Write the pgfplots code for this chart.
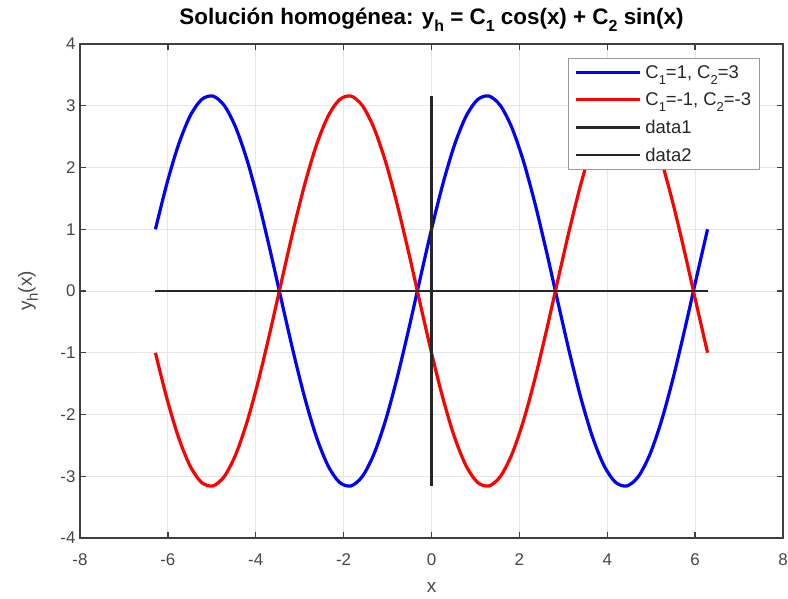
\documentclass[border=0pt]{standalone}
\usepackage{fontspec}
\setmainfont{Liberation Sans}
\usepackage{pgfplots}
\usepackage{pgfplotstable}
\pgfplotsset{compat=1.18}
\definecolor{axgray}{RGB}{38,38,38}
\definecolor{linegray}{RGB}{64,64,64}
\definecolor{gridgray}{RGB}{230,230,230}
\definecolor{mblue}{RGB}{0,0,255}
\definecolor{mred}{RGB}{255,0,0}
\newcommand{\sub}[3][13]{\raisebox{-#3bp}{\fontsize{#1}{#1}\selectfont #2}}

% x, C1=1 C2=3, C1=-1 C2=-3
\pgfplotstableread{
x a b
-6.2832 1 -1
-6.0214 1.7424 -1.7424
-5.7596 2.3660 -2.3660
-5.4978 2.8284 -2.8284
-5.2360 3.0981 -3.0981
-4.9742 3.1566 -3.1566
-4.7124 3 -3
-4.4506 2.6390 -2.6390
-4.1888 2.0981 -2.0981
-3.9270 1.4142 -1.4142
-3.6652 0.6340 -0.6340
-3.4034 -0.1894 0.1894
-3.1416 -1 1
-2.8798 -1.7424 1.7424
-2.6180 -2.3660 2.3660
-2.3562 -2.8284 2.8284
-2.0944 -3.0981 3.0981
-1.8326 -3.1566 3.1566
-1.5708 -3 3
-1.3090 -2.6390 2.6390
-1.0472 -2.0981 2.0981
-0.7854 -1.4142 1.4142
-0.5236 -0.6340 0.6340
-0.2618 0.1894 -0.1894
0 1 -1
0.2618 1.7424 -1.7424
0.5236 2.3660 -2.3660
0.7854 2.8284 -2.8284
1.0472 3.0981 -3.0981
1.3090 3.1566 -3.1566
1.5708 3 -3
1.8326 2.6390 -2.6390
2.0944 2.0981 -2.0981
2.3562 1.4142 -1.4142
2.6180 0.6340 -0.6340
2.8798 -0.1894 0.1894
3.1416 -1 1
3.4034 -1.7424 1.7424
3.6652 -2.3660 2.3660
3.9270 -2.8284 2.8284
4.1888 -3.0981 3.0981
4.4506 -3.1566 3.1566
4.7124 -3 3
4.9742 -2.6390 2.6390
5.2360 -2.0981 2.0981
5.4978 -1.4142 1.4142
5.7596 -0.6340 0.6340
6.0214 0.1894 -0.1894
6.2832 1 -1
}\sol

\begin{document}
\begin{tikzpicture}
\begin{axis}[
    width=703bp, height=494bp, scale only axis,
    xmin=-8, xmax=8, ymin=-4, ymax=4,
    xtick={-8,-6,...,8}, ytick={-4,-3,...,4},
    grid=major,
    major grid style={gridgray, line width=0.8bp},
    axis line style={linegray, line width=1.3bp},
    tick style={linegray, line width=1.3bp},
    tick align=inside, major tick length=6bp,
    ticklabel style={font=\fontsize{17}{19}\selectfont, text=axgray!85},
    xticklabel style={yshift=-12bp},
    yticklabel style={xshift=-1bp},
    /pgf/number format/assume math mode=true,
    xlabel={x}, ylabel={y\sub[15]{h}{6}(x)},
    label style={font=\fontsize{19}{21}\selectfont, text=axgray!85},
    xlabel style={at={(axis description cs:0.5,-0.101)}, anchor=center},
    ylabel style={at={(axis description cs:-0.074,0.5)}, anchor=center},
    title={\bfseries Solución homogénea: y\sub[16]{h}{7} = C\sub[16]{1}{7} cos(x) + C\sub[16]{2}{7} sin(x)},
    title style={font=\fontsize{22.5}{24}\selectfont, at={(axis description cs:0.5,1.028)}, anchor=base, text=black},
    legend style={at={(0.694,0.972)}, anchor=north west,
        font=\fontsize{18.5}{20}\selectfont, text=axgray,
        draw=gray!80, line width=0.8bp, fill=white,
        inner xsep=6bp, inner ysep=5bp, row sep=9bp, cells={anchor=west}},
    legend image code/.code={\draw[#1] (0bp,0bp) -- (64bp,0bp);},
]
\coordinate (bl) at (rel axis cs:0,0);
\addplot[mblue, line width=3.2bp, smooth] table[x=x, y=a] {\sol};
\addlegendentry{\hspace{2bp}C\sub{1}{6}=1, C\sub{2}{6}=3}
\addplot[mred, line width=3.2bp, smooth] table[x=x, y=b] {\sol};
\addlegendentry{\hspace{2bp}C\sub{1}{6}=-1, C\sub{2}{6}=-3}
\addplot[axgray, line width=2.5bp] coordinates {(0,-3.1623) (0,3.1623)};
\addlegendentry{\hspace{2bp}data1}
\addplot[axgray, line width=2.5bp] coordinates {(-6.2832,0) (6.2832,0)};
\addlegendentry{\hspace{2bp}data2}
\end{axis}
\pgfresetboundingbox
\path (bl) ++(-80bp,-61bp) rectangle ++(788bp,599bp);
\end{tikzpicture}
\end{document}
